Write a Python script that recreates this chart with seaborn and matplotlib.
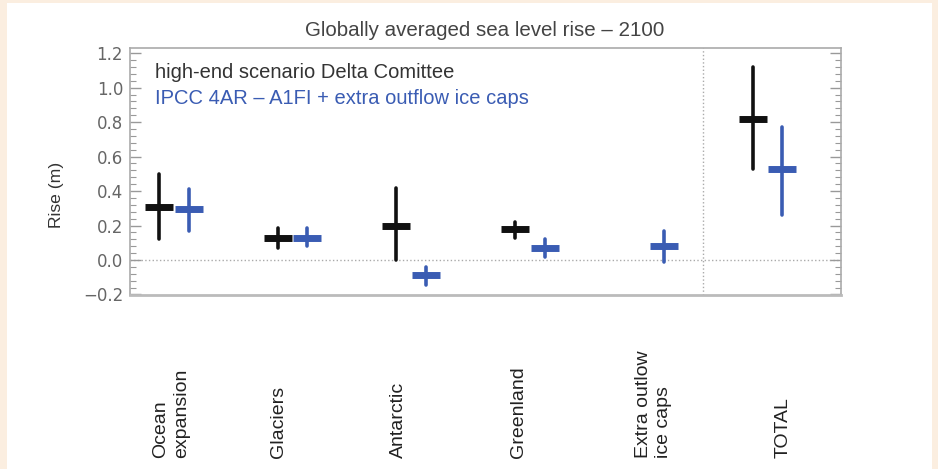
import numpy as np
import pandas as pd
import matplotlib
matplotlib.use('Agg')
import matplotlib.pyplot as plt
import matplotlib.transforms as mtransforms
from matplotlib.patches import Rectangle
from matplotlib.ticker import MultipleLocator
import seaborn as sns

# Components of sea level rise (x categories)
components = ["Ocean\nexpansion", "Glaciers", "Antarctic", "Greenland",
              "Extra outlow\nice caps", "TOTAL"]

# high-end scenario Delta Comittee (low / mid / high, metres)
delta_low = [0.12, 0.07, 0.00, 0.13, np.nan, 0.53]
delta_mid = [0.305, 0.128, 0.20, 0.18, np.nan, 0.82]
delta_high = [0.50, 0.186, 0.42, 0.22, np.nan, 1.12]

# IPCC 4AR - A1FI + extra outflow ice caps
ipcc_low = [0.17, 0.08, -0.145, 0.017, -0.01, 0.26]
ipcc_mid = [0.296, 0.128, -0.087, 0.07, 0.08, 0.53]
ipcc_high = [0.41, 0.186, -0.04, 0.12, 0.168, 0.77]

scenarios = ["high-end scenario Delta Comittee",
             "IPCC 4AR \u2013 A1FI + extra outflow ice caps"]
colors = ["#111111", "#3a5cb3"]

# long table: three rows (low, mid, high) per component and scenario
rows = []
for name, lo, mid, hi in [(scenarios[0], delta_low, delta_mid, delta_high),
                          (scenarios[1], ipcc_low, ipcc_mid, ipcc_high)]:
    for comp, a, b, c in zip(components, lo, mid, hi):
        for v in (a, b, c):
            if not np.isnan(v):
                rows.append({'component': comp, 'scenario': name, 'rise': v})
df = pd.DataFrame(rows)

sns.set_theme(style='white')
plt.rcParams['font.family'] = ['Liberation Sans', 'DejaVu Sans']

fig = plt.figure(figsize=(9.38, 4.69), dpi=100, facecolor='#fbeee0')
# white panel inside the beige border
fig.patches.append(Rectangle((7 / 938, 0), 925 / 938, 1 - 3 / 469,
                             transform=fig.transFigure, facecolor='white',
                             edgecolor='none', zorder=-5))
ax = fig.add_axes([130 / 938, 1 - 295 / 469, 711 / 938, 247 / 469])
ax.set_zorder(2)

sns.pointplot(data=df, x='component', y='rise', hue='scenario',
              order=components, hue_order=scenarios, palette=colors,
              estimator='median', errorbar=('pi', 100), dodge=0.25,
              markers='_', linestyles='none', markersize=19.5,
              markeredgewidth=5, err_kws={'linewidth': 2.6},
              legend=False, ax=ax)

ax.set_xlim(-0.37, 5.62)
ax.set_ylim(-0.203, 1.23)
ax.axhline(0, color='#aaaaaa', linestyle=':', linewidth=1, zorder=0)
ax.axvline(4.46, color='#aaaaaa', linestyle=':', linewidth=1, zorder=0)

ax.set_xticks([])
ax.set_xlabel('')
ax.set_ylabel('')
ax.yaxis.set_minor_locator(MultipleLocator(0.04))
ax.set_yticks(np.arange(-0.2, 1.21, 0.2))
ax.set_yticklabels(['\u22120.2', '0.0', '0.2', '0.4', '0.6', '0.8', '1.0', '1.2'],
                   family='DejaVu Sans')
ax.tick_params(axis='y', which='both', direction='in', left=True, right=True,
               colors='#999999', labelcolor='#666666', labelsize=12, pad=5)
ax.tick_params(axis='y', which='major', length=8, width=1)
ax.tick_params(axis='y', which='minor', length=4, width=0.8)
for s in ax.spines.values():
    s.set_color('#aaaaaa')
    s.set_linewidth(1.2)
ax.spines['bottom'].set_linewidth(2)
ax.spines['bottom'].set_color('#bbbbbb')

ax.text(0.035, 0.899, scenarios[0], transform=ax.transAxes, color='#333333',
        fontsize=14.5, va='center', ha='left')
ax.text(0.035, 0.794, scenarios[1], transform=ax.transAxes, color=colors[1],
        fontsize=14.5, va='center', ha='left')

fig.text(485 / 938, 1 - 30 / 469, 'Globally averaged sea level rise \u2013 2100',
         ha='center', va='center', fontsize=14.8, color='#444444')
fig.text(57 / 938, 1 - 195 / 469, 'Rise (m)', rotation=90, ha='center',
         va='center', fontsize=12.6, color='#333333')

# rotated category labels, aligned at their start (bottom)
label_x = [-0.02, 0.88, 1.89, 2.9, 4.04, 5.13]
trans = mtransforms.blended_transform_factory(ax.transData, fig.transFigure)
for lx, lab in zip(label_x, components):
    ax.text(lx, 1 - 458 / 469, lab, transform=trans, rotation=90,
            ha='center', va='bottom', multialignment='left',
            fontsize=14, color='#222222', linespacing=1.3, clip_on=False)

fig.savefig('out.png', dpi=100, facecolor=fig.get_facecolor())
